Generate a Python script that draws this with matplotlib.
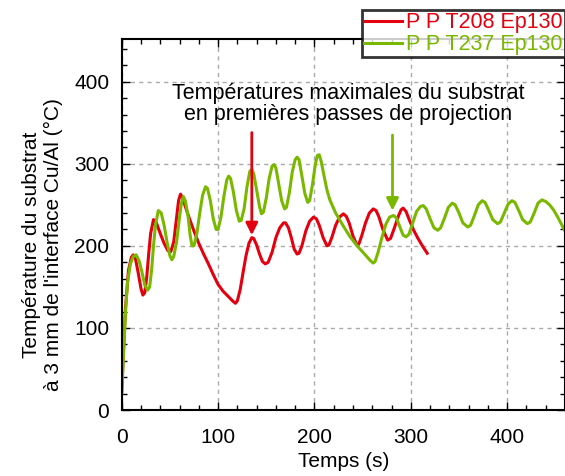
import matplotlib
matplotlib.use("Agg")
import matplotlib.pyplot as plt
from matplotlib.ticker import MultipleLocator

plt.rcParams['font.family'] = ['Liberation Sans', 'DejaVu Sans']

# Series 1: P P T208 Ep130 (time s, temperature °C)
red_t = [0, 2, 4, 7, 10, 12, 14, 17, 20, 22, 24, 26, 28, 30, 33, 36, 40, 44, 48, 51, 54, 57,
         59, 61, 63, 66, 70, 75, 80, 85, 90, 95, 100, 105, 110, 115, 118, 120, 123, 126, 129,
         132, 135, 137, 140, 143, 146, 149, 152, 156, 160, 164, 168, 170, 173, 176, 179, 182,
         184, 187, 191, 195, 199, 202, 205, 209, 213, 215, 218, 222, 226, 230, 233, 236, 240,
         244, 246, 249, 253, 257, 261, 264, 267, 271, 276, 279, 283, 287, 290, 292, 295, 299,
         303, 307, 312, 317]
red_T = [22, 75, 125, 170, 186, 189, 186, 168, 148, 140, 143, 162, 190, 215, 232, 228, 215,
         203, 194, 193, 205, 235, 255, 263, 259, 248, 234, 218, 203, 190, 178, 165, 153, 145,
         139, 133, 130, 133, 147, 168, 188, 203, 210, 209, 201, 190, 181, 178, 180, 192, 210,
         222, 228, 228, 222, 210, 196, 190, 191, 200, 218, 230, 235, 233, 225, 210, 200, 201,
         210, 225, 235, 239, 236, 228, 212, 201, 202, 212, 228, 240, 245, 243, 235, 220, 207,
         209, 222, 236, 244, 246, 242, 230, 219, 210, 200, 191]

# Series 2: P P T237 Ep130
green_t = [0, 2, 4, 6, 9, 12, 15, 18, 21, 24, 27, 29, 31, 33, 35, 38, 41, 44, 47, 50, 52, 54,
           57, 60, 62, 64, 66, 69, 71, 73, 75, 78, 81, 84, 87, 89, 92, 95, 98, 100, 103, 106,
           109, 111, 113, 116, 119, 122, 124, 127, 130, 133, 135, 137, 140, 143, 145, 147, 150,
           153, 156, 158, 160, 163, 166, 169, 171, 174, 177, 180, 182, 184, 187, 190, 193, 195,
           198, 201, 203, 205, 207, 210, 213, 216, 222, 230, 237, 245, 252, 258, 261, 263, 266,
           270, 274, 278, 282, 285, 289, 292, 295, 298, 302, 306, 310, 313, 316, 320, 324, 328,
           331, 335, 339, 343, 346, 350, 354, 359, 362, 366, 370, 374, 377, 381, 385, 390, 393,
           397, 401, 405, 408, 412, 416, 421, 424, 428, 432, 436, 440, 444, 448, 452, 456, 460]
green_T = [20, 70, 120, 155, 178, 187, 189, 182, 168, 152, 146, 150, 170, 200, 225, 243, 240,
           225, 205, 188, 183, 187, 205, 235, 252, 260, 255, 235, 213, 200, 200, 215, 240, 262,
           272, 270, 255, 233, 220, 220, 235, 260, 280, 285, 282, 265, 243, 230, 231, 245, 272,
           291, 293, 288, 268, 248, 239, 241, 258, 282, 297, 299, 295, 275, 255, 245, 247, 265,
           290, 305, 308, 305, 285, 264, 253, 255, 275, 300, 310, 311, 303, 285, 268, 256, 240,
           224, 211, 199, 190, 182, 179, 181, 192, 210, 226, 235, 237, 234, 222, 213, 211, 214,
           228, 242, 248, 249, 245, 233, 222, 219, 222, 234, 247, 252, 250, 240, 228, 223, 225,
           237, 250, 255, 253, 243, 232, 227, 229, 240, 251, 255, 253, 243, 232, 227, 229, 240,
           252, 256, 254, 250, 244, 236, 227, 218]

labels = ['P P T208 Ep130', 'P P T237 Ep130']
red_c = '#e3000f'
green_c = '#7ab800'

fig = plt.figure(figsize=(5.65, 4.76), dpi=100)
ax = fig.add_axes([121.7 / 565, 1 - 410 / 476, (565 - 121.7) / 565, (410 - 39) / 476])

l1, = ax.plot(red_t, red_T, color=red_c, lw=2.2, label=labels[0], solid_joinstyle='round')
l2, = ax.plot(green_t, green_T, color=green_c, lw=2.2, label=labels[1], solid_joinstyle='round')

ax.set_xlim(0, 460)
ax.set_ylim(0, 452)
ax.xaxis.set_major_locator(MultipleLocator(100))
ax.xaxis.set_minor_locator(MultipleLocator(20))
ax.yaxis.set_major_locator(MultipleLocator(100))
ax.yaxis.set_minor_locator(MultipleLocator(20))
ax.tick_params(which='both', direction='in', top=True, right=True, labelsize=15, width=1)
ax.tick_params(which='major', length=6)
ax.tick_params(axis='x', which='major', pad=13)
ax.tick_params(axis='y', which='major', pad=9)
ax.tick_params(which='minor', length=3.5)
ax.grid(True, which='major', color='#aaaaaa', linestyle=(0, (3, 3)), lw=1)
for s in ax.spines.values():
    s.set_linewidth(1.5)

ax.set_xlabel('Temps (s)', fontsize=15)
ax.xaxis.set_label_coords(0.5, -0.113)
ax.set_ylabel("Température du substrat\nà 3 mm de l'interface Cu/Al (°C)", fontsize=15)
ax.yaxis.set_label_coords(-0.132, 0.445)

ax.text(235, 373, 'Températures maximales du substrat\nen premières passes de projection',
        ha='center', va='center', fontsize=15.5, linespacing=1.0)
ax.annotate('', xy=(135, 213), xytext=(135, 338),
            arrowprops=dict(arrowstyle='-|>', color=red_c, lw=2, mutation_scale=18,
                            shrinkA=0, shrinkB=0))
ax.annotate('', xy=(281, 243), xytext=(281, 335),
            arrowprops=dict(arrowstyle='-|>', color=green_c, lw=2, mutation_scale=18,
                            shrinkA=0, shrinkB=0))

leg = fig.legend(handles=[l1, l2], loc='upper left', bbox_to_anchor=(362 / 565, 1 - 10 / 476),
                 fontsize=15.5, frameon=True, fancybox=False, handlelength=1.75,
                 handletextpad=0.2, borderpad=0.1, labelspacing=0.05, borderaxespad=0)
leg.get_frame().set_edgecolor('black')
leg.get_frame().set_linewidth(2)
for txt, c in zip(leg.get_texts(), [red_c, green_c]):
    txt.set_color(c)

fig.savefig('out.png', dpi=100)
